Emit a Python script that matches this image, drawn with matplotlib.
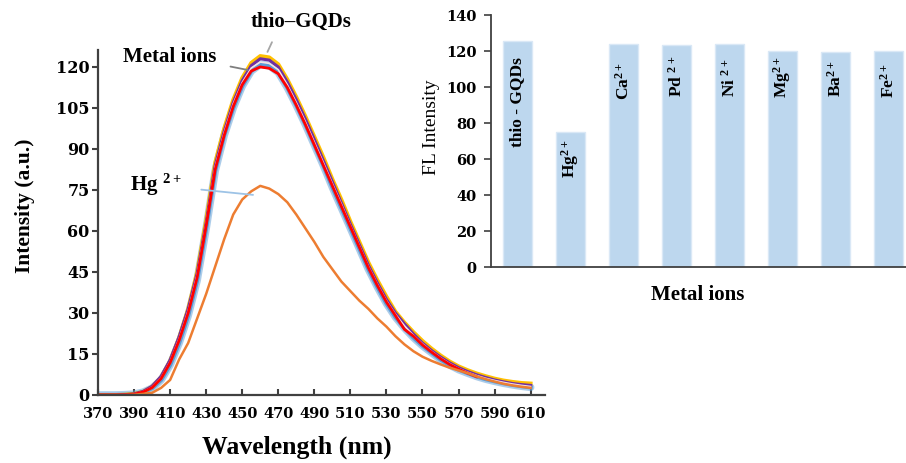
import matplotlib
matplotlib.use("Agg")
import matplotlib.pyplot as plt

# ── Emission spectra (5 nm steps) ────────────────────────────────────────────
WAVELENGTH = list(range(370, 615, 5))

GQD_SPEC = [0.0, 0.0, 0.0, 0.1, 0.4, 1.2, 3.0, 6.5, 12.5, 21.0,
            31.5, 45.0, 64.0, 85.0, 97.5, 108.0, 116.0, 121.5, 124.0, 123.5,
            121.0, 115.5, 109.0, 102.0, 94.5, 87.0, 79.0, 71.5, 63.5, 56.0,
            48.5, 42.0, 36.0, 30.5, 26.5, 23.0, 19.8, 17.0, 14.5, 12.3,
            10.5, 9.1, 7.9, 6.9, 6.0, 5.3, 4.8, 4.4, 4.2]
ION_SPEC_PURPLE = [0.0, 0.0, 0.0, 0.1, 0.4, 1.3, 3.2, 6.8, 12.8, 21.3,
                   31.5, 44.5, 63.0, 84.0, 96.5, 107.0, 115.0, 120.5, 123.0, 122.5,
                   120.0, 114.5, 108.0, 101.0, 93.5, 85.8, 78.0, 70.3, 62.5, 55.0,
                   47.5, 41.0, 35.0, 30.0, 26.0, 22.3, 19.0, 16.3, 13.9, 11.8,
                   10.0, 8.6, 7.4, 6.4, 5.5, 4.8, 4.2, 3.8, 3.5]
ION_SPEC_PALE = [0.0, 0.0, 0.0, 0.1, 0.35, 1.2, 2.9, 6.3, 12.2, 20.6,
                 30.8, 44.0, 62.8, 83.5, 96.0, 106.5, 114.3, 119.6, 121.8, 121.3,
                 119.0, 113.5, 107.0, 100.0, 92.5, 85.0, 77.3, 69.8, 62.0, 54.5,
                 47.0, 40.5, 34.5, 29.5, 25.3, 21.8, 18.7, 16.0, 13.6, 11.5,
                 9.7, 8.3, 7.1, 6.1, 5.3, 4.6, 4.0, 3.5, 3.1]
ION_SPEC_RED = [0.0, 0.0, 0.0, 0.1, 0.3, 1.1, 2.7, 6.0, 11.8, 20.0,
                30.0, 43.0, 62.0, 82.5, 95.0, 105.5, 113.5, 118.5, 120.0, 119.5,
                117.5, 112.5, 106.0, 99.0, 91.5, 84.0, 76.5, 69.0, 61.5, 54.0,
                46.5, 40.0, 34.0, 29.0, 24.0, 21.5, 18.3, 15.7, 13.3, 11.2,
                9.5, 8.0, 6.7]
ION_SPEC_BLUE = [0.0, 0.0, 0.0, 0.1, 0.3, 1.0, 2.5, 5.5, 11.0, 19.0,
                 29.0, 42.0, 61.0, 82.0, 95.0, 105.0, 113.0, 118.5, 121.0, 120.5,
                 118.0, 112.5, 106.0, 99.0, 91.5, 84.0, 76.0, 68.5, 61.0, 53.5,
                 46.0, 39.5, 33.5, 28.5, 24.5, 21.0, 18.0, 15.5, 13.0, 11.0,
                 9.3, 8.0, 6.8, 5.8, 5.0, 4.3, 3.7, 3.2, 2.8]
HG_SPEC = [0.0, 0.0, 0.0, 0.0, 0.1, 0.4, 0.8, 2.6, 5.5, 13.0,
           19.0, 28.0, 37.0, 47.0, 57.0, 66.0, 71.5, 74.5, 76.5, 75.5,
           73.5, 70.5, 66.0, 61.0, 56.0, 50.5, 46.0, 41.5, 38.0, 34.5,
           31.5, 28.0, 25.0, 21.5, 18.5, 16.0, 14.0, 12.5, 11.2, 10.0,
           9.0, 8.0, 6.8, 5.8, 4.9, 4.1, 3.5, 3.0, 2.6]

X_TICKS = list(range(370, 611, 20))
Y_TICKS = list(range(0, 121, 15))

# ── FL intensity per metal ion ───────────────────────────────────────────────
IONS = ["thio - GQDs", "Hg$^{2+}$", "Ca$^{2+}$", "Pd $^{2+}$",
        "Ni $^{2+}$", "Mg$^{2+}$", "Ba$^{2+}$", "Fe$^{2+}$"]
FL_INTENSITY = [125.5, 75, 124, 123.5, 124, 120, 119.5, 120]
# where each rotated label starts inside its bar
LABEL_BASE = [66.7, 49.4, 92.8, 94.4, 94.4, 93.9, 94.4, 93.9]

STYLE = {
    "yellow": "#FFC000",
    "purple": "#7030A0",
    "pale":   "#F6E3E3",
    "red":    "#FF0000",
    "blue":   "#5B9BD5",
    "orange": "#ED7D31",
    "bar":    "#BDD7EE",
    "bar_edge": "#DAE8F6",
    "spine":  "#404040",
    "leader": "#A6A6A6",
    "hg_leader": "#9DC3E6",
    "text":   "#000000",
}
plt.rcParams.update({
    "font.family": ["Liberation Serif", "DejaVu Serif"],
    "mathtext.default": "regular",
    "text.color": STYLE["text"],
})

TICK_FONT = {"family": "DejaVu Serif", "weight": "bold"}


def spectra_panel(fig):
    ax = fig.add_axes([0.1082, 0.1469, 0.4934, 0.7451])

    ax.plot(WAVELENGTH, ION_SPEC_BLUE, color=STYLE["blue"], lw=5.5, alpha=0.5,
            solid_capstyle="round")
    ax.plot(WAVELENGTH, ION_SPEC_BLUE, color=STYLE["blue"], lw=3.0)
    ax.plot(WAVELENGTH, GQD_SPEC, color=STYLE["yellow"], lw=2.8)
    ax.plot(WAVELENGTH, ION_SPEC_PURPLE, color=STYLE["purple"], lw=2.2)
    ax.plot(WAVELENGTH, ION_SPEC_PALE, color=STYLE["pale"], lw=1.2)
    ax.plot(WAVELENGTH[:len(ION_SPEC_RED)], ION_SPEC_RED, color=STYLE["red"], lw=2.0)
    ax.plot(WAVELENGTH, HG_SPEC, color=STYLE["orange"], lw=1.8)

    ax.set_xlim(370, 618)
    ax.set_ylim(0, 126.2)
    ax.set_xticks(X_TICKS)
    ax.set_xticklabels([str(t) for t in X_TICKS], fontdict=TICK_FONT, fontsize=10.5)
    ax.set_yticks(Y_TICKS)
    ax.set_yticklabels([str(t) for t in Y_TICKS], fontdict=TICK_FONT, fontsize=11.5)
    ax.tick_params(axis="x", direction="in", length=4, width=1.5,
                   color=STYLE["spine"], pad=9)
    ax.tick_params(axis="y", direction="out", length=4.5, width=1.5,
                   color=STYLE["spine"], pad=1.5)

    for side in ("top", "right"):
        ax.spines[side].set_visible(False)
    for side in ("left", "bottom"):
        ax.spines[side].set_color(STYLE["spine"])
        ax.spines[side].set_linewidth(1.6)

    ax.set_xlabel("Wavelength (nm)", fontsize=18.5, fontweight="bold")
    ax.xaxis.set_label_coords(0.444, -0.117)
    ax.set_ylabel("Intensity (a.u.)", fontsize=15.5, fontweight="bold")
    ax.yaxis.set_label_coords(-0.141, 0.548)

    # curve labels with leader lines
    ax.annotate("thio\u2013GQDs", xy=(464, 125.5), xytext=(482.6, 136.5),
                ha="center", va="center", fontsize=15, fontweight="bold",
                annotation_clip=False,
                arrowprops=dict(arrowstyle="-", color=STYLE["leader"], lw=1.3,
                                relpos=(0.26, 0.0), shrinkA=6, shrinkB=0))
    ax.annotate("Metal ions", xy=(453, 118.9), xytext=(410, 123.7),
                ha="center", va="center", fontsize=15, fontweight="bold",
                arrowprops=dict(arrowstyle="-", color="#7F7F7F", lw=1.3,
                                relpos=(1.0, 0.15), shrinkA=8, shrinkB=0))
    ax.annotate("Hg $^{2+}$", xy=(456, 73.2), xytext=(402.2, 76.8),
                ha="center", va="center", fontsize=15, fontweight="bold",
                arrowprops=dict(arrowstyle="-", color=STYLE["hg_leader"], lw=1.3,
                                relpos=(1.0, 0.4), shrinkA=12, shrinkB=0))
    return ax


def bar_panel(fig):
    ax = fig.add_axes([0.5419, 0.4233, 0.468, 0.5443])
    x = list(range(len(IONS)))
    ax.bar(x, FL_INTENSITY, width=0.53, color=STYLE["bar"],
           edgecolor=STYLE["bar_edge"], linewidth=1.0)

    for xi, name, base in zip(x, IONS, LABEL_BASE):
        ax.text(xi, base, name, rotation=90, ha="center", va="bottom",
                fontsize=12.5, fontweight="bold")

    ax.set_xlim(-0.5, 7.5)
    ax.set_ylim(0, 140)
    ax.set_xticks([])
    yt = list(range(0, 141, 20))
    ax.set_yticks(yt)
    ax.set_yticklabels([str(t) for t in yt], fontdict=TICK_FONT, fontsize=10.5)
    ax.tick_params(axis="y", direction="out", length=5, width=1.2,
                   color=STYLE["spine"], pad=5.5)

    for side in ("top", "right"):
        ax.spines[side].set_visible(False)
    for side in ("left", "bottom"):
        ax.spines[side].set_color(STYLE["spine"])
        ax.spines[side].set_linewidth(1.3)

    ax.set_ylabel("FL Intensity", fontsize=14)
    ax.yaxis.set_label_coords(-0.12, 0.556)
    ax.set_xlabel("Metal ions", fontsize=15, fontweight="bold")
    ax.xaxis.set_label_coords(0.488, -0.071)
    return ax


fig = plt.figure(figsize=(9.06, 4.63), dpi=100)
fig.patch.set_facecolor("white")
spectra_panel(fig)
bar_panel(fig)
fig.savefig("out.png", dpi=100)
plt.close(fig)
